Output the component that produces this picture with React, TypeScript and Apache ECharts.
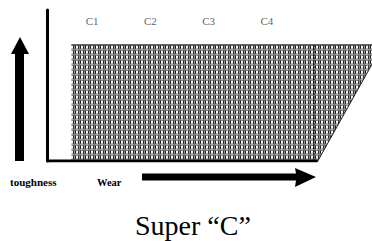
import React, { useEffect, useRef } from "react";
import * as echarts from "echarts";

// Data
const gradeLabels = ["C1", "C2", "C3", "C4"];
// Shaded "Super C" region outline (wear, toughness units)
const regionTop = [
  [9, 100],
  [124, 100],
  [100, 0],
];
// Dotted divider inside the region
const dividerLine = [
  [98.5, 0],
  [98.5, 100],
];
// Wear axis extent
const wearAxis = [
  [0, 0],
  [100, 0],
];
const titleText = "Super \u201CC\u201D";
const yName = "toughness";
const xName = "Wear";

function makePattern(): HTMLCanvasElement {
  const c = document.createElement("canvas");
  c.width = 5;
  c.height = 5;
  const ctx = c.getContext("2d")!;
  const rows = [
    ["#555", "#888", "#888", "#555", "#777"],
    ["#1a1a1a", "#ffffff", "#f4f4f4", "#2a2a2a", "#999"],
    ["#1a1a1a", "#f8f8f8", "#eeeeee", "#2a2a2a", "#999"],
    ["#3a3a3a", "#b8b8b8", "#b0b0b0", "#3a3a3a", "#888"],
    ["#999", "#aaa", "#aaa", "#888", "#777"],
  ];
  rows.forEach((r, y) =>
    r.forEach((col, x) => {
      ctx.fillStyle = col;
      ctx.fillRect(x, y, 1, 1);
    })
  );
  return c;
}

export default function App() {
  const ref = useRef<HTMLDivElement>(null);
  useEffect(() => {
    if (!ref.current) return;
    const chart = echarts.init(ref.current, null, { renderer: "svg" });
    const pattern = makePattern();
    const serif = "'Liberation Serif', 'Times New Roman', serif";
    chart.setOption({
      animation: false,
      backgroundColor: "#fff",
      title: {
        text: titleText,
        left: 130,
        top: 206,
        textStyle: { fontFamily: serif, fontSize: 28, fontWeight: "normal", color: "#000" },
      },
      grid: [
        { left: 47, right: 0, top: 10, bottom: 80 },
        { left: 63, right: 76, top: 30, height: 10 },
      ],
      xAxis: [
        {
          type: "value",
          gridIndex: 0,
          min: 0,
          max: 120,
          axisLine: { show: false },
          axisTick: { show: false },
          axisLabel: { show: false },
          splitLine: { show: false },
        },
        {
          type: "category",
          gridIndex: 1,
          position: "top",
          data: gradeLabels,
          axisLine: { show: false },
          axisTick: { show: false },
          splitLine: { show: false },
          axisLabel: { margin: 4, fontFamily: serif, fontSize: 11, color: "#666" },
        },
      ],
      yAxis: [
        {
          type: "value",
          gridIndex: 0,
          min: 0,
          max: 130,
          axisLine: { show: true, lineStyle: { color: "#000", width: 3 } },
          axisTick: { show: false },
          axisLabel: { show: false },
          splitLine: { show: false },
        },
        {
          type: "value",
          gridIndex: 1,
          show: false,
        },
      ],
      series: [
        {
          type: "line",
          xAxisIndex: 0,
          yAxisIndex: 0,
          data: regionTop,
          showSymbol: false,
          symbol: "none",
          lineStyle: { color: "#222", width: 1 },
          areaStyle: { color: { image: pattern, repeat: "repeat", imageWidth: 5, imageHeight: 5 } as any, opacity: 1 },
          z: 1,
        },
        {
          type: "line",
          xAxisIndex: 0,
          yAxisIndex: 0,
          data: dividerLine,
          showSymbol: false,
          symbol: "none",
          lineStyle: { color: "#111", width: 1.5, type: "dotted" },
          z: 2,
        },
        {
          type: "line",
          xAxisIndex: 0,
          yAxisIndex: 0,
          data: wearAxis,
          showSymbol: false,
          symbol: "none",
          lineStyle: { color: "#000", width: 3 },
          z: 3,
        },
      ],
      graphic: [
        {
          type: "polygon",
          shape: {
            points: [
              [20, 37], [29, 54], [24, 54], [24, 161], [15, 161], [15, 54], [11, 54],
            ],
          },
          style: { fill: "#000" },
        },
        {
          type: "polygon",
          shape: {
            points: [
              [142, 173.5], [296, 173.5], [295, 168], [316, 177], [295, 187], [296, 180.5], [142, 180.5],
            ],
          },
          style: { fill: "#000" },
        },
        {
          type: "text",
          x: 10,
          y: 182,
          style: {
            text: yName,
            font: "bold 11px 'Liberation Serif', serif",
            fill: "#000",
            textVerticalAlign: "middle",
          },
        },
        {
          type: "text",
          x: 97,
          y: 182,
          style: {
            text: xName,
            font: "bold 10.5px 'Liberation Serif', serif",
            fill: "#000",
            textVerticalAlign: "middle",
          },
        },
      ],
    });
    return () => chart.dispose();
  }, []);
  return <div ref={ref} style={{ width: 372, height: 241, position: "absolute", left: 0, top: 0 }} />;
}
